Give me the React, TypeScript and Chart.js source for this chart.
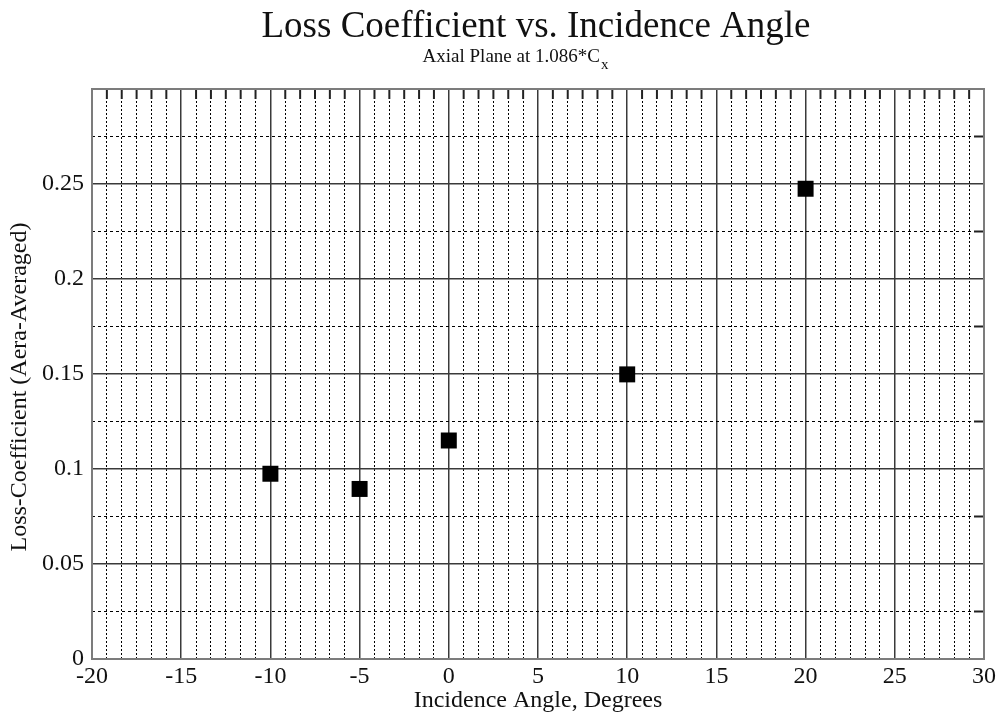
import React, { useEffect, useRef } from 'react';
import { Chart, registerables } from 'chart.js';

Chart.register(...registerables);

// ---- data ----
const incidenceAngles = [-10, -5, 0, 10, 20];
const lossCoefficients = [0.0975, 0.0895, 0.115, 0.1498, 0.2475];

// ---- axes ----
const xMajorTicks = [-20, -15, -10, -5, 0, 5, 10, 15, 20, 25, 30];
const xTickLabels = ['-20', '-15', '-10', '-5', '0', '5', '10', '15', '20', '25', '30'];
const yMajorTicks = [0, 0.05, 0.1, 0.15, 0.2, 0.25, 0.3];
const yTickLabels = ['0', '0.05', '0.1', '0.15', '0.2', '0.25', ''];
const xMinorDivisions = 6;
const yMinorDivisions = 2;

const titleText = 'Loss Coefficient vs. Incidence Angle';
const subtitleText = 'Axial Plane at 1.086*C';
const subtitleSub = 'x';
const xAxisTitle = 'Incidence Angle, Degrees';
const yAxisTitle = 'Loss-Coefficient (Aera-Averaged)';

function minorsOf(majors: number[], div: number): number[] {
  const out: number[] = [];
  for (let i = 0; i < majors.length - 1; i++) {
    for (let k = 1; k < div; k++) {
      out.push(majors[i] + ((majors[i + 1] - majors[i]) * k) / div);
    }
  }
  return out;
}

const xMinorTicks = minorsOf(xMajorTicks, xMinorDivisions);
const yMinorTicks = minorsOf(yMajorTicks, yMinorDivisions);

const isMajorOf = (majors: number[]) => (v: number) =>
  majors.some((m) => Math.abs(m - v) < 1e-9);
const isXMajor = isMajorOf(xMajorTicks);
const isYMajor = isMajorOf(yMajorTicks);

const labelOf = (majors: number[], labels: string[]) => (v: number) => {
  const i = majors.findIndex((m) => Math.abs(m - v) < 1e-9);
  return i >= 0 ? labels[i] : '';
};

const SERIF = '"Liberation Serif", "Times New Roman", serif';

const decorPlugin = {
  id: 'decor',
  afterDraw(chart: any) {
    const { ctx, chartArea, scales } = chart;
    const { left, right, top, bottom } = chartArea;
    ctx.save();
    ctx.setLineDash([]);
    // short solid minor ticks along top and right edges
    ctx.strokeStyle = '#222';
    ctx.lineWidth = 2;
    xMinorTicks.forEach((v) => {
      const px = scales.x.getPixelForValue(v);
      ctx.beginPath();
      ctx.moveTo(px, top);
      ctx.lineTo(px, top + 10);
      ctx.stroke();
    });
    yMinorTicks.forEach((v) => {
      const py = scales.y.getPixelForValue(v);
      ctx.beginPath();
      ctx.moveTo(right - 10, py);
      ctx.lineTo(right, py);
      ctx.stroke();
    });
    // frame
    ctx.strokeStyle = '#7c7c7c';
    ctx.lineWidth = 2;
    ctx.strokeRect(left, top, right - left, bottom - top);

    // titles
    ctx.fillStyle = '#111';
    ctx.textBaseline = 'alphabetic';
    ctx.textAlign = 'center';
    ctx.font = `37px ${SERIF}`;
    ctx.fillText(titleText, 536, 37);

    ctx.font = `19px ${SERIF}`;
    const w = ctx.measureText(subtitleText).width;
    ctx.font = `15px ${SERIF}`;
    const ws = ctx.measureText(subtitleSub).width;
    const startX = 515 - (w + ws) / 2;
    ctx.textAlign = 'left';
    ctx.font = `19px ${SERIF}`;
    ctx.fillText(subtitleText, startX, 62);
    ctx.font = `15px ${SERIF}`;
    ctx.fillText(subtitleSub, startX + w + 1, 69);

    // y axis title (rotated)
    ctx.save();
    ctx.translate(20, 387);
    ctx.rotate(-Math.PI / 2);
    ctx.textAlign = 'center';
    ctx.textBaseline = 'middle';
    ctx.font = `24px ${SERIF}`;
    ctx.fillText(yAxisTitle, 0, 0);
    ctx.restore();

    ctx.restore();
  },
};

export default function App() {
  const canvasRef = useRef<HTMLCanvasElement | null>(null);

  useEffect(() => {
    const canvas = canvasRef.current;
    if (!canvas) return;
    const chart = new Chart(canvas, {
      type: 'scatter',
      data: {
        datasets: [
          {
            label: 'Loss coefficient',
            data: incidenceAngles.map((x, i) => ({ x, y: lossCoefficients[i] })),
            pointStyle: 'rect',
            pointRadius: 11.3,
            pointHoverRadius: 11.3,
            backgroundColor: '#000',
            borderColor: '#000',
            borderWidth: 0,
          },
        ],
      },
      options: {
        responsive: false,
        animation: false,
        events: [],
        layout: { padding: { top: 89, right: 16, left: 0, bottom: 0 } },
        plugins: {
          legend: { display: false },
          tooltip: { enabled: false },
          title: { display: false },
        },
        scales: {
          x: {
            type: 'linear',
            min: -20,
            max: 30,
            afterFit: (scale: any) => {
              scale.height = 56;
            },
            afterBuildTicks: (scale: any) => {
              scale.ticks = [...xMajorTicks, ...xMinorTicks]
                .sort((a, b) => a - b)
                .map((value) => ({ value }));
            },
            ticks: {
              autoSkip: false,
              maxRotation: 0,
              padding: 3,
              color: '#111',
              font: { family: SERIF, size: 24 },
              callback: (value: any) => labelOf(xMajorTicks, xTickLabels)(Number(value)),
            },
            grid: {
              drawTicks: false,
              color: (c: any) => (c.tick && isXMajor(c.tick.value) ? '#3a3a3a' : '#000'),
              lineWidth: (c: any) => (c.tick && isXMajor(c.tick.value) ? 1.5 : 1),
            },
            border: {
              display: false,
              dash: (c: any) => (c.tick && isXMajor(c.tick.value) ? [] : [2, 2]),
            },
            title: {
              display: true,
              text: xAxisTitle,
              color: '#111',
              font: { family: SERIF, size: 24 },
              padding: { top: 0, bottom: 0 },
            },
          },
          y: {
            type: 'linear',
            min: 0,
            max: 0.3,
            afterFit: (scale: any) => {
              scale.width = 92;
            },
            afterBuildTicks: (scale: any) => {
              scale.ticks = [...yMajorTicks, ...yMinorTicks]
                .sort((a, b) => a - b)
                .map((value) => ({ value }));
            },
            ticks: {
              autoSkip: false,
              padding: 8,
              color: '#111',
              font: { family: SERIF, size: 24 },
              callback: (value: any) => labelOf(yMajorTicks, yTickLabels)(Number(value)),
            },
            grid: {
              drawTicks: false,
              color: (c: any) => (c.tick && isYMajor(c.tick.value) ? '#3a3a3a' : '#000'),
              lineWidth: (c: any) => (c.tick && isYMajor(c.tick.value) ? 1.5 : 1),
            },
            border: {
              display: false,
              dash: (c: any) => (c.tick && isYMajor(c.tick.value) ? [] : [3, 3]),
            },
            title: { display: false },
          },
        },
      } as any,
      plugins: [decorPlugin],
    });
    return () => chart.destroy();
  }, []);

  return (
    <div style={{ position: 'absolute', left: 0, top: 0, width: 1000, height: 715, background: '#fff' }}>
      <canvas ref={canvasRef} width={1000} height={715} />
    </div>
  );
}
